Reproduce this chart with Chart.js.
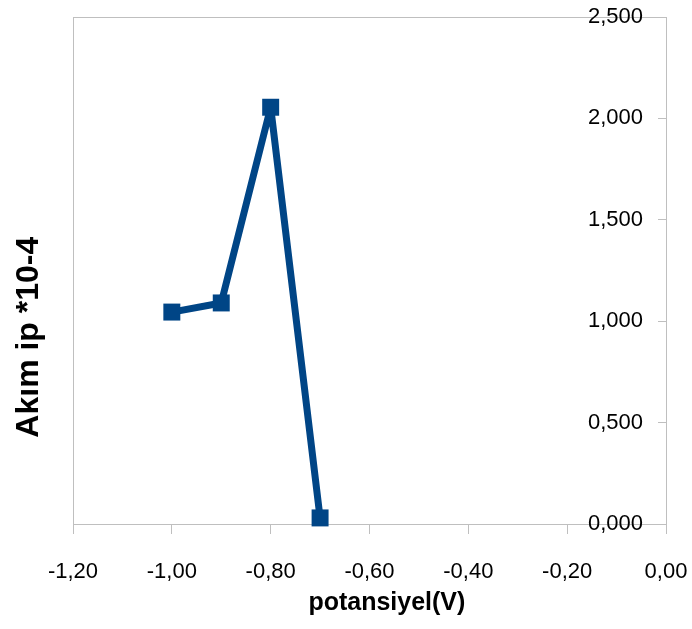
<!DOCTYPE html>
<html>
<head>
<meta charset="utf-8">
<script src="https://cdn.jsdelivr.net/npm/chart.js@4.4.1/dist/chart.umd.min.js"></script>
<style>
  html, body { margin: 0; padding: 0; background: #ffffff; }
  #wrap { width: 692px; height: 629px; }
</style>
</head>
<body>
<div id="wrap"><canvas id="myChart" width="692" height="629"></canvas></div>
<script>
// potansiyel (V) and current values
const potansiyel = [-1.00, -0.90, -0.80, -0.70];
const akim = [1.045, 1.09, 2.055, 0.03];

// extra spaces nudge the titles off-centre, as in the original
const xTitle = '\u00a0'.repeat(5) + 'potansiyel(V)';
const yTitle = 'Akım ip *10-4' + '\u00a0'.repeat(15);

const lineColor = 'rgb(0, 69, 134)';
const axisColor = '#bfbfbf';
const fontFamily = "'Liberation Sans', Arial, sans-serif";

function commaFixed(v, d) {
    return Number(v).toFixed(d).replace('.', ',');
}

const points = potansiyel.map((x, i) => ({ x: x, y: akim[i] }));

new Chart(document.getElementById('myChart'), {
    type: 'line',
    data: {
        datasets: [{
            data: points,
            borderColor: lineColor,
            backgroundColor: lineColor,
            borderWidth: 7,
            borderJoinStyle: 'bevel',
            pointStyle: 'rect',
            pointRadius: 12,
            pointHoverRadius: 12,
            pointBorderWidth: 0,
            tension: 0,
            clip: false,
            yAxisID: 'y'
        }]
    },
    options: {
        responsive: false,
        animation: false,
        layout: { padding: 0, autoPadding: false },
        plugins: {
            legend: { display: false },
            tooltip: { enabled: false }
        },
        scales: {
            x: {
                type: 'linear',
                position: 'bottom',
                min: -1.2,
                max: 0,
                afterFit: s => {
                    s.height = 105;
                    s.paddingLeft = 0;
                    s.paddingRight = 0;
                },
                ticks: {
                    stepSize: 0.2,
                    color: '#000',
                    padding: 25,
                    font: { family: fontFamily, size: 22 },
                    callback: v => commaFixed(v, 2)
                },
                grid: { drawOnChartArea: false, tickLength: 10, color: axisColor },
                border: { display: true, color: axisColor, width: 1 },
                title: {
                    display: true,
                    text: xTitle,
                    color: '#000',
                    padding: { top: 0, bottom: 11 },
                    font: { family: fontFamily, size: 25, weight: 'bold' }
                }
            },
            xTop: {
                type: 'linear',
                position: 'top',
                min: -1.2,
                max: 0,
                afterFit: s => { s.height = 17; },
                ticks: { display: false },
                grid: { drawOnChartArea: false, drawTicks: false },
                border: { display: true, color: axisColor, width: 1 }
            },
            y: {
                type: 'linear',
                position: 'right',
                min: 0,
                max: 2.5,
                afterFit: s => { s.width = 26; },
                ticks: {
                    stepSize: 0.5,
                    mirror: true,
                    padding: -23,
                    color: '#000',
                    font: { family: fontFamily, size: 22 },
                    callback: v => commaFixed(v, 3)
                },
                grid: { drawOnChartArea: false, tickLength: -8, color: axisColor },
                border: { display: true, color: axisColor, width: 1 }
            },
            yLeft: {
                type: 'linear',
                position: 'left',
                min: 0,
                max: 2.5,
                afterFit: s => { s.width = 73; },
                ticks: { display: false },
                grid: { drawOnChartArea: false, drawTicks: false },
                border: { display: true, color: axisColor, width: 1 },
                title: {
                    display: true,
                    text: yTitle,
                    color: '#000',
                    padding: { top: 10, bottom: 0 },
                    font: { family: fontFamily, size: 32, weight: 'bold' }
                }
            }
        }
    }
});
</script>
</body>
</html>
